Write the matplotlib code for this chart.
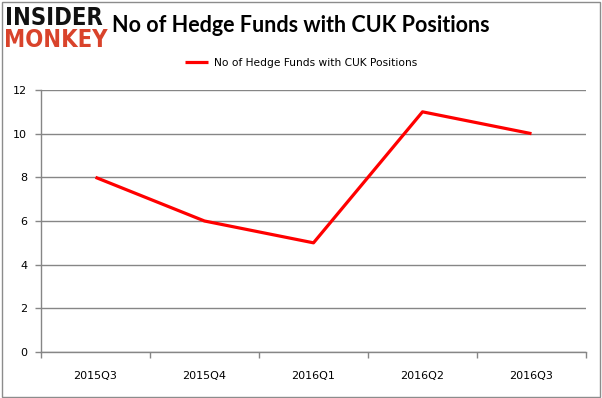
import matplotlib
matplotlib.use("Agg")
import matplotlib.pyplot as plt
from matplotlib.patches import Rectangle

categories = ["2015Q3", "2015Q4", "2016Q1", "2016Q2", "2016Q3"]
values = [8, 6, 5, 11, 10]
yticks = [0, 2, 4, 6, 8, 10, 12]
series_name = "No of Hedge Funds with CUK Positions"
title = "No of Hedge Funds with CUK Positions"

W, H = 602, 398
fig = plt.figure(figsize=(W / 100, H / 100), dpi=100)
fig.patch.set_facecolor("white")

# outer border
fig.add_artist(Rectangle((2 / W, 1 / H), 598 / W, 395 / H, transform=fig.transFigure,
                         fill=False, edgecolor="#8c8c8c", linewidth=1.0))

ax = fig.add_axes([41 / W, (H - 352) / H, 545 / W, 262 / H])
x = list(range(len(categories)))
ax.plot(x, values, color="#ff0000", linewidth=2.3, label=series_name, solid_capstyle="butt")
ax.set_xlim(-0.5, len(categories) - 0.5)
ax.set_ylim(0, 12)
ax.set_yticks(yticks)
ax.set_yticklabels([str(v) for v in yticks], fontsize=8, family="DejaVu Sans")
ax.set_xticks(x)
ax.set_xticklabels(categories, fontsize=8, family="DejaVu Sans")
ax.set_xticks([i - 0.5 for i in range(len(categories) + 1)], minor=True)
ax.tick_params(axis="x", which="major", length=0, pad=14)
ax.tick_params(axis="x", which="minor", length=4, color="#868686", width=1)
ax.tick_params(axis="y", length=4, color="#868686", width=1, pad=6)
ax.yaxis.grid(True, color="#868686", linewidth=1)
ax.set_axisbelow(True)
for s in ["top", "right"]:
    ax.spines[s].set_visible(False)
for s in ["left", "bottom"]:
    ax.spines[s].set_color("#868686")
    ax.spines[s].set_linewidth(1)

leg = fig.legend(loc="center", bbox_to_anchor=(301 / W, 1 - 63 / H), frameon=False,
                 handlelength=2.2, handletextpad=0.5,
                 prop={"family": "DejaVu Sans", "size": 7.7})

fig.text(301 / W, 1 - 25 / H, title, ha="center", va="center", fontsize=15.5,
         fontweight="bold", family="Lato")

# logo
fig.text(5 / W, 1 - 18 / H, "INSIDER", ha="left", va="center", fontsize=17,
         fontweight="heavy", family="DejaVu Sans", stretch="condensed", color="#111111")
fig.text(4 / W, 1 - 40 / H, "MONKEY", ha="left", va="center", fontsize=17,
         fontweight="heavy", family="DejaVu Sans", stretch="condensed", color="#d9432b")

fig.savefig("out.png", dpi=100)
